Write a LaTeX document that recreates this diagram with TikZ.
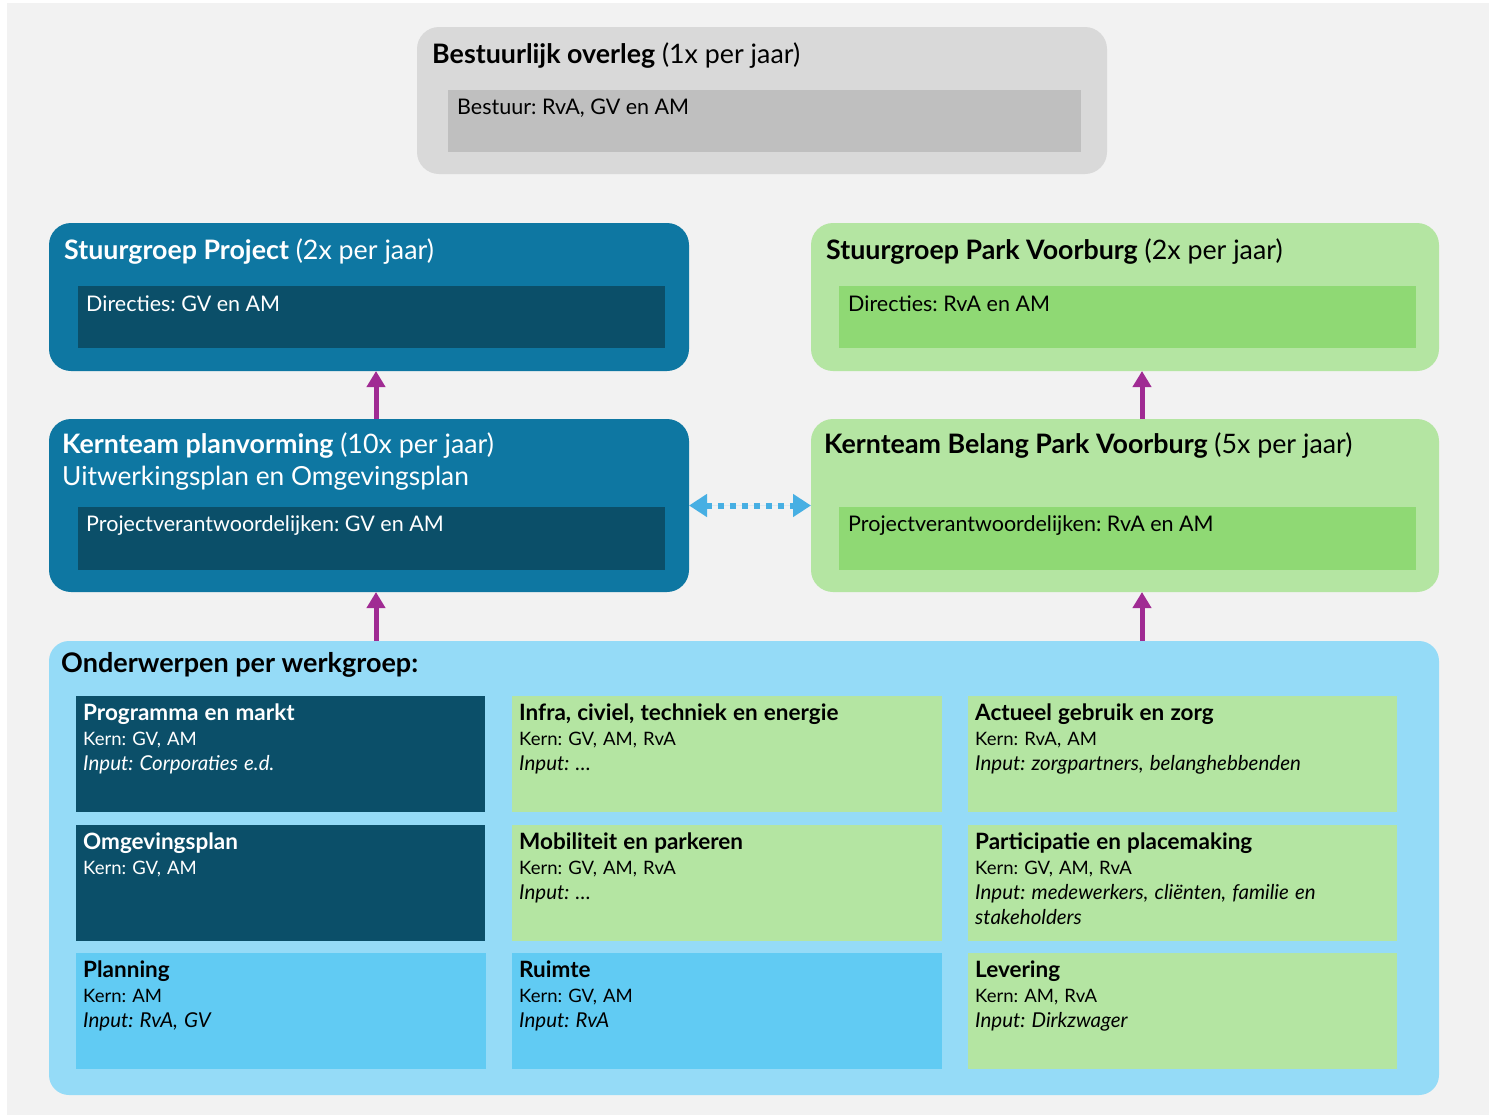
\documentclass[tikz,border=0pt]{standalone}
\usepackage{fontspec}
\setmainfont{Lato}
\usetikzlibrary{arrows.meta,positioning}
\frenchspacing

\definecolor{pagegray}{HTML}{F2F2F2}
\definecolor{boxgray}{HTML}{D9D9D9}
\definecolor{innergray}{HTML}{BFBFBF}
\definecolor{teal}{HTML}{0E77A2}
\definecolor{darkteal}{HTML}{0B4F69}
\definecolor{lightgreen}{HTML}{B4E5A2}
\definecolor{midgreen}{HTML}{8FD974}
\definecolor{skyblue}{HTML}{95DBF7}
\definecolor{midblue}{HTML}{61CBF3}
\definecolor{purplearrow}{HTML}{A02B93}
\definecolor{dotblue}{HTML}{47AFE3}

\begin{document}
\begin{tikzpicture}[x=1pt,y=-1pt,
  outer box/.style={rectangle,rounded corners=22pt,anchor=north west,inner sep=0pt,outer sep=0pt},
  inner box/.style={rectangle,anchor=north west,inner sep=0pt,outer sep=0pt},
  cell box/.style={rectangle,anchor=north west,inner sep=0pt,outer sep=0pt,minimum height=116pt},
  head text/.style={anchor=base west,inner sep=0pt,font=\fontsize{26.8}{30}\selectfont},
  body text/.style={anchor=base west,inner sep=0pt,font=\fontsize{21.5}{26}\selectfont},
  cell text/.style={anchor=north west,inner sep=0pt,text width=410pt,align=left,
    font=\fontsize{18.5}{25}\selectfont},
  up arrow/.style={-{Triangle[width=18pt,length=16pt]},line width=5pt,draw=purplearrow,fill=purplearrow},
  link arrow/.style={{Triangle[width=22pt,length=18pt]}-{Triangle[width=22pt,length=18pt]},
    line width=6pt,dash pattern=on 6pt off 6pt,draw=dotblue,fill=dotblue}]

  \useasboundingbox (0,0) rectangle (1489,1117);
  \fill[white] (0,0) rectangle (1489,1117);
  \fill[pagegray] (7,3) rectangle (1489,1115);

  \node[outer box,fill=boxgray,minimum width=690pt,minimum height=147pt] (bestuur) at (417,27) {};
  \node[inner box,fill=innergray,minimum width=633pt,minimum height=62pt] (bestuurin) at (448,90) {};
  \node[head text] at (432,63) {\textbf{Bestuurlijk overleg} (1x per jaar)};
  \node[body text] at (457,114) {Bestuur: RvA, GV en AM};

  \node[outer box,fill=teal,minimum width=640pt,minimum height=148pt] (stuurproject) at (49,223) {};
  \node[inner box,fill=darkteal,minimum width=587pt,minimum height=62pt] (stuurprojectin) at (78,286) {};
  \node[head text,text=white] at (64,259) {\textbf{Stuurgroep Project} (2x per jaar)};
  \node[body text,text=white] at (86,311) {Directies: GV en AM};

  \node[outer box,fill=lightgreen,minimum width=628pt,minimum height=148pt] (stuurpark) at (811,223) {};
  \node[inner box,fill=midgreen,minimum width=577pt,minimum height=62pt] (stuurparkin) at (839,286) {};
  \node[head text] at (826,259) {\textbf{Stuurgroep Park Voorburg} (2x per jaar)};
  \node[body text] at (848,311) {Directies: RvA en AM};

  \node[outer box,fill=teal,minimum width=640pt,minimum height=173pt] (kernplan) at (49,419) {};
  \node[inner box,fill=darkteal,minimum width=587pt,minimum height=63pt] (kernplanin) at (78,507) {};
  \node[head text,text=white] at (62,453) {\textbf{Kernteam planvorming} (10x per jaar)};
  \node[head text,text=white,font=\fontsize{26.3}{30}\selectfont] at (62,485) {Uitwerkingsplan en Omgevingsplan};
  \node[body text,text=white] at (86,531) {Projectverantwoordelijken: GV en AM};

  \node[outer box,fill=lightgreen,minimum width=628pt,minimum height=173pt] (kernpark) at (811,419) {};
  \node[inner box,fill=midgreen,minimum width=577pt,minimum height=63pt] (kernparkin) at (839,507) {};
  \node[head text] at (824,453) {\textbf{Kernteam Belang Park Voorburg} (5x per jaar)};
  \node[body text] at (848,531) {Projectverantwoordelijken: RvA en AM};

  \node[outer box,rounded corners=20pt,fill=skyblue,minimum width=1390pt,minimum height=454pt] (werkgroep) at (49,641) {};
  \node[head text,font=\bfseries\fontsize{27}{30}\selectfont] at (61,672) {Onderwerpen per werkgroep:};

  \foreach \cname/\cx/\cy/\cw/\cfill/\ctext/\ctitle/\ccore/\cinput in {
      programma/76/696/409/darkteal/white/{Programma en markt}/{Kern: GV, AM}/{Input: Corporaties e.d.},
      omgeving/76/825/409/darkteal/white/{Omgevingsplan}/{Kern: GV, AM}/{},
      planning/76/953/410/midblue/black/{Planning}/{Kern: AM}/{Input: RvA, GV},
      infra/512/696/430/lightgreen/black/{Infra, civiel, techniek en energie}/{Kern: GV, AM, RvA}/{Input: …},
      mobiliteit/512/825/430/lightgreen/black/{Mobiliteit en parkeren}/{Kern: GV, AM, RvA}/{Input: …},
      ruimte/512/953/430/midblue/black/{Ruimte}/{Kern: GV, AM}/{Input: RvA},
      actueel/968/696/429/lightgreen/black/{Actueel gebruik en zorg}/{Kern: RvA, AM}/{Input: zorgpartners, belanghebbenden},
      participatie/968/825/429/lightgreen/black/{Participatie en placemaking}/{Kern: GV, AM, RvA}/{Input: medewerkers, cliënten, familie en\\ stakeholders},
      levering/968/953/429/lightgreen/black/{Levering}/{Kern: AM, RvA}/{Input: Dirkzwager}} {
    \node[cell box,fill=\cfill,minimum width=\cw pt] (\cname) at (\cx,\cy) {};
    \node[cell text,text=\ctext] at ([xshift=7pt,yshift=-6pt]\cname.north west)
      {\rule{0pt}{18pt}{\bfseries\fontsize{22.5}{25}\selectfont\ctitle}\\\ccore\\\itshape\fontsize{20.5}{25}\selectfont\cinput};
  }

  \draw[up arrow] ([xshift=7pt]kernplan.north) -- ([xshift=7pt]stuurproject.south);
  \draw[up arrow] ([xshift=17pt]kernpark.north) -- ([xshift=17pt]stuurpark.south);
  \draw[up arrow] ([xshift=7pt]kernplan.south |- werkgroep.north) -- ([xshift=7pt]kernplan.south);
  \draw[up arrow] ([xshift=17pt]kernpark.south |- werkgroep.north) -- ([xshift=17pt]kernpark.south);
  \draw[link arrow] (kernplan.east) -- (kernpark.west);
\end{tikzpicture}
\end{document}
